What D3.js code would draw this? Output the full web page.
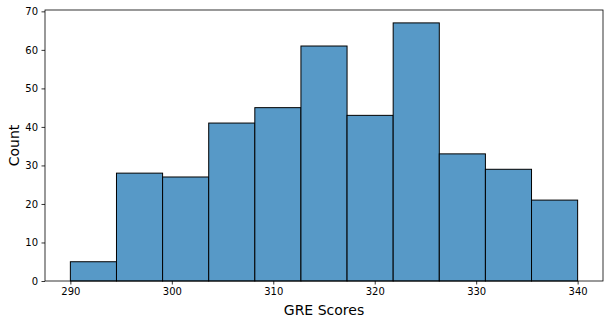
<!DOCTYPE html>
<html><head><meta charset="utf-8">
<script src="https://cdn.jsdelivr.net/npm/d3@7"></script>
<style>body{margin:0;background:#fff}svg{display:block}</style>
</head><body>
<script>
const binStart = 290, binEnd = 340;
const counts = [5, 28, 27, 41, 45, 61, 43, 67, 33, 29, 21];
const xTicks = [290, 300, 310, 320, 330, 340];
const yTicks = [0, 10, 20, 30, 40, 50, 60, 70];
const xLabel = "GRE Scores", yLabel = "Count";

const W = 610, H = 323;
const m = {left: 45, right: 7, top: 10, bottom: 42};
const svg = d3.select("body").append("svg").attr("width", W).attr("height", H);
const bw = (binEnd - binStart) / counts.length;
const bins = counts.map((c, i) => ({x0: binStart + i * bw, x1: binStart + (i + 1) * bw, c}));
const pad = (binEnd - binStart) * 0.05;
const x = d3.scaleLinear().domain([binStart - pad, binEnd + pad]).range([m.left, W - m.right]);
const y = d3.scaleLinear().domain([0, d3.max(counts) * 1.05]).range([H - m.bottom, m.top]);

svg.append("g").selectAll("rect").data(bins).join("rect")
  .attr("x", d => x(d.x0)).attr("y", d => y(d.c))
  .attr("width", d => x(d.x1) - x(d.x0)).attr("height", d => y(0) - y(d.c))
  .attr("fill", "rgb(87,153,199)").attr("stroke", "#000").attr("stroke-width", 1);

const fontF = "DejaVu Sans, sans-serif";
const gx = svg.append("g").attr("transform", `translate(0,${H - m.bottom})`)
  .call(d3.axisBottom(x).tickValues(xTicks).tickSize(3.5).tickPadding(3.5).tickSizeOuter(0));
const gy = svg.append("g").attr("transform", `translate(${m.left},0)`)
  .call(d3.axisLeft(y).tickValues(yTicks).tickSize(3.5).tickPadding(3.5).tickSizeOuter(0));
[gx, gy].forEach(g => {
  g.select(".domain").remove();
  g.selectAll("text").attr("font-family", fontF).attr("font-size", 10).attr("fill", "#000");
  g.selectAll("line").attr("stroke", "#000").attr("stroke-width", 0.8);
});
svg.append("rect").attr("x", m.left).attr("y", m.top)
  .attr("width", W - m.right - m.left).attr("height", H - m.bottom - m.top)
  .attr("fill", "none").attr("stroke", "#000").attr("stroke-width", 0.8);

svg.append("text").attr("x", (m.left + W - m.right) / 2).attr("y", 315)
  .attr("text-anchor", "middle").attr("font-family", fontF).attr("font-size", 14).text(xLabel);
svg.append("text").attr("transform", `translate(19,${(m.top + H - m.bottom) / 2}) rotate(-90)`)
  .attr("text-anchor", "middle").attr("font-family", fontF).attr("font-size", 14).text(yLabel);
</script>
</body></html>
